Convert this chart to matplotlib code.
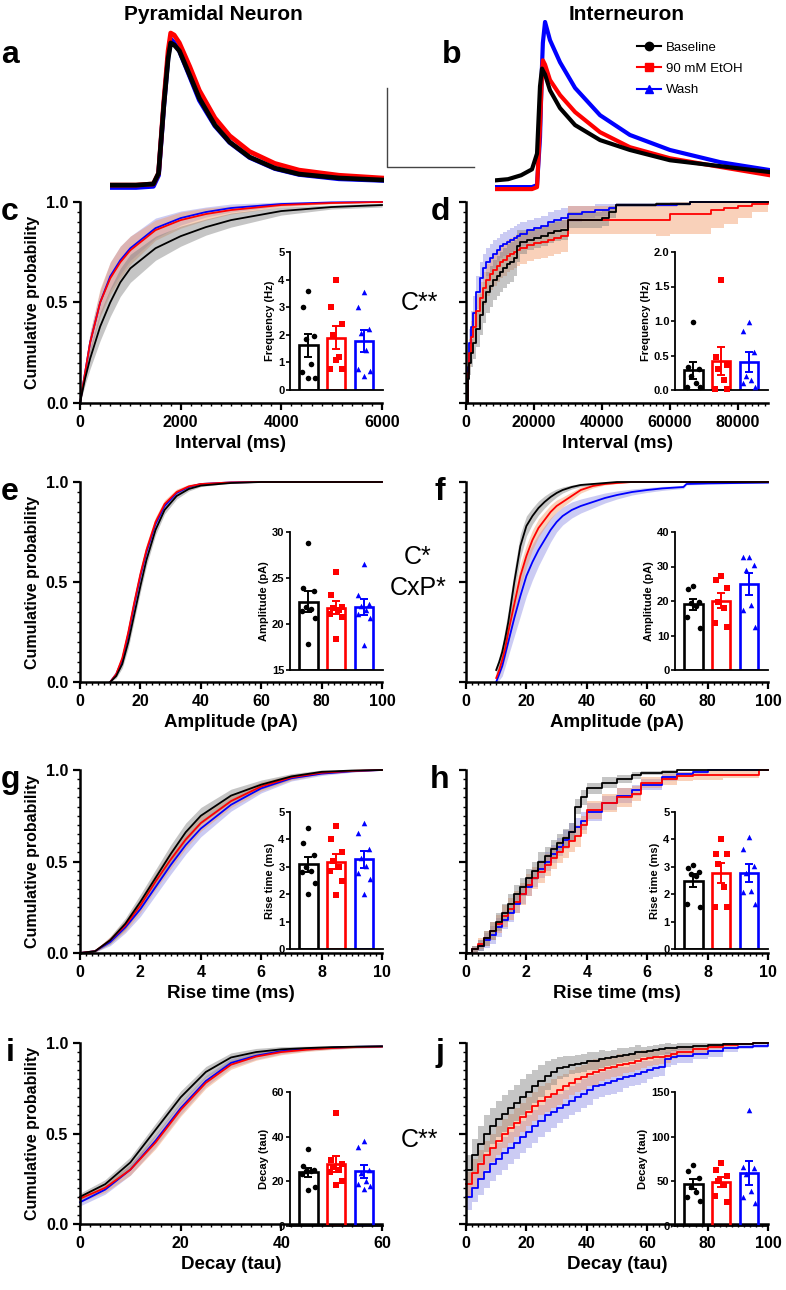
import numpy as np
import matplotlib
matplotlib.use("Agg")
import matplotlib.pyplot as plt
from matplotlib.lines import Line2D
from matplotlib.ticker import MultipleLocator, FormatStrFormatter

plt.rcParams.update({
    "font.family": ["Liberation Sans", "DejaVu Sans"],
    "font.weight": "bold",
    "axes.labelweight": "bold",
    "axes.linewidth": 1.6,
})

W, H = 786, 1290
LINE = ["#000000", "#ff0000", "#0000ff"]
BAND = ["#7f7f7f", "#f29a66", "#8c8ce6"]
MARK = ["o", "s", "^"]
LABELS = ["Baseline", "90 mM EtOH", "Wash"]

# ─── example traces (ms, pA) ────────────────────────────────────────────────
A_T = [0, 3, 5, 5.6, 6.2, 6.7, 7.0, 7.4, 8.0, 9.2, 10.3, 12.1, 13.8, 16.1, 19.0, 21.8, 26.4, 31.4]
A_BASE = [0, 0, 0.3, 3, 20, 32, 36, 35.5, 34, 27.8, 22, 15.2, 10.9, 7.1, 4.3, 2.8, 1.8, 1.3]
A_ETOH = [0, 0, 0.3, 3, 21, 34, 38.5, 38, 36, 30, 24, 17, 12.5, 8.5, 5.5, 3.8, 2.5, 1.8]
A_WASH = [-0.6, -0.6, -0.3, 2.5, 20, 32.5, 37, 36, 34, 27.5, 21.5, 15, 10.8, 7, 4.2, 2.7, 1.6, 1.2]

B_T = [0, 1.5, 3.0, 4.25, 4.83, 5.17, 5.4, 5.5, 5.75, 6.32, 7.47, 9.2, 12.07, 15.5, 20.1, 25.9, 31.6]
B_BASE = [1.2, 1.5, 2.5, 4, 8, 25, 29.5, 29, 28, 24, 19.5, 15.2, 11.4, 8.9, 6.3, 4.8, 3.3]
B_ETOH = [-1, -1, -1, -1, -0.5, 15, 28, 31.6, 30.5, 26.6, 22.8, 18.5, 13.4, 9.6, 6.8, 4.6, 2.5]
B_WASH = [-0.5, -0.5, -0.5, -0.5, 0, 12, 30, 36, 41.3, 36.7, 31.1, 24.6, 17.7, 12.7, 8.9, 5.8, 3.8]

# ─── c: interval, pyramidal ─────────────────────────────────────────────────
C_X = [0, 100, 200, 400, 600, 800, 1000, 1500, 2000, 2500, 3000, 4000, 5000, 6000]
C_BASE = [0, 0.12, 0.22, 0.38, 0.5, 0.6, 0.67, 0.77, 0.83, 0.875, 0.91, 0.955, 0.975, 0.985]
C_ETOH = [0, 0.15, 0.3, 0.5, 0.62, 0.7, 0.76, 0.86, 0.91, 0.94, 0.96, 0.985, 0.995, 1.0]
C_WASH = [0, 0.15, 0.3, 0.5, 0.63, 0.71, 0.77, 0.87, 0.92, 0.95, 0.97, 0.99, 0.998, 1.0]
C_BASE_SEM = [0, 0.03, 0.05, 0.07, 0.07, 0.07, 0.07, 0.06, 0.05, 0.04, 0.035, 0.02, 0.01, 0.01]
C_ETOH_SEM = [0, 0.03, 0.05, 0.07, 0.08, 0.08, 0.07, 0.05, 0.04, 0.03, 0.02, 0.01, 0.005, 0]
C_WASH_SEM = [0, 0.03, 0.05, 0.06, 0.07, 0.07, 0.06, 0.05, 0.035, 0.025, 0.02, 0.01, 0.005, 0]

# ─── d: interval, interneuron ───────────────────────────────────────────────
D_X = [0, 500, 1000, 1500, 2000, 3000, 4000, 5000, 6000, 7000, 8000, 9000, 10000, 11000,
       12000, 13000, 14000, 15000, 16000, 18000, 20000, 22000, 24000, 26000, 28000, 30000,
       34000, 38000, 40000, 42000, 44000, 48000, 56000, 60000, 62000, 66000, 68000, 72000,
       76000, 80000, 84000, 88800]
D_BASE = [0, 0.12, 0.2, 0.25, 0.3, 0.37, 0.44, 0.5, 0.55, 0.58, 0.61, 0.63, 0.65, 0.67,
          0.69, 0.70, 0.72, 0.78, 0.80, 0.81, 0.82, 0.83, 0.845, 0.855, 0.86, 0.91,
          0.91, 0.91, 0.92, 0.95, 0.985, 0.985, 0.99, 0.99, 0.99, 1.0, 1.0, 1.0,
          1.0, 1.0, 1.0, 1.0]
D_ETOH = [0, 0.15, 0.25, 0.33, 0.38, 0.46, 0.52, 0.57, 0.61, 0.64, 0.66, 0.68, 0.70, 0.71,
          0.73, 0.74, 0.75, 0.76, 0.77, 0.785, 0.795, 0.80, 0.81, 0.82, 0.83, 0.91,
          0.91, 0.91, 0.91, 0.91, 0.91, 0.91, 0.91, 0.94, 0.94, 0.94, 0.94, 0.96,
          0.97, 0.98, 0.99, 1.0]
D_WASH = [0, 0.18, 0.30, 0.38, 0.45, 0.55, 0.62, 0.67, 0.70, 0.72, 0.74, 0.76, 0.78, 0.79,
          0.80, 0.81, 0.82, 0.83, 0.84, 0.86, 0.87, 0.88, 0.90, 0.91, 0.92, 0.94,
          0.95, 0.96, 0.96, 0.97, 0.985, 0.985, 0.985, 0.985, 0.99, 1.0, 1.0, 1.0,
          1.0, 1.0, 1.0, 1.0]
D_BASE_SEM = [0, 0.04, 0.06, 0.07, 0.08, 0.09, 0.1, 0.1, 0.1, 0.1, 0.1, 0.1, 0.1, 0.1,
              0.1, 0.1, 0.09, 0.08, 0.06, 0.05, 0.05, 0.05, 0.05, 0.05, 0.05, 0.04,
              0.04, 0.04, 0.04, 0.03, 0.01, 0.01, 0.01, 0.01, 0.01, 0, 0, 0,
              0, 0, 0, 0]
D_ETOH_SEM = [0, 0.05, 0.07, 0.08, 0.08, 0.08, 0.08, 0.08, 0.08, 0.08, 0.08, 0.08, 0.08, 0.08,
              0.08, 0.08, 0.08, 0.08, 0.08, 0.08, 0.08, 0.08, 0.08, 0.08, 0.08, 0.07,
              0.07, 0.07, 0.07, 0.07, 0.07, 0.07, 0.08, 0.1, 0.1, 0.1, 0.1, 0.09,
              0.08, 0.06, 0.04, 0]
D_WASH_SEM = [0, 0.05, 0.07, 0.08, 0.08, 0.08, 0.08, 0.07, 0.07, 0.07, 0.07, 0.06, 0.06, 0.06,
              0.06, 0.06, 0.06, 0.06, 0.06, 0.05, 0.05, 0.05, 0.05, 0.05, 0.05, 0.04,
              0.03, 0.03, 0.03, 0.02, 0.01, 0.01, 0.01, 0.01, 0.005, 0, 0, 0,
              0, 0, 0, 0]

# ─── e: amplitude, pyramidal ────────────────────────────────────────────────
E_X = [10, 12, 14, 16, 18, 20, 22, 25, 28, 32, 36, 40, 50, 60, 100]
E_BASE = [0, 0.03, 0.09, 0.2, 0.34, 0.48, 0.61, 0.76, 0.86, 0.93, 0.965, 0.982, 0.995, 1.0, 1.0]
E_ETOH = [0, 0.04, 0.12, 0.25, 0.4, 0.54, 0.66, 0.8, 0.89, 0.95, 0.978, 0.99, 0.998, 1.0, 1.0]
E_WASH = [0, 0.04, 0.11, 0.24, 0.39, 0.53, 0.65, 0.79, 0.88, 0.945, 0.975, 0.99, 0.998, 1.0, 1.0]
E_SEM = [0, 0.01, 0.02, 0.03, 0.03, 0.03, 0.03, 0.025, 0.02, 0.015, 0.01, 0.005, 0, 0, 0]

# ─── f: amplitude, interneuron ──────────────────────────────────────────────
F_X = [10, 11, 12, 13, 14, 15, 16, 18, 20, 22, 24, 26, 28, 30, 32, 35, 38, 42, 46, 50,
       55, 60, 65, 70, 72, 73, 80, 90, 100]
F_BASE = [0.06, 0.1, 0.15, 0.22, 0.3, 0.4, 0.5, 0.68, 0.78, 0.83, 0.87, 0.9, 0.925, 0.945,
          0.96, 0.975, 0.985, 0.99, 0.995, 1.0, 1.0, 1.0, 1.0, 1.0, 1.0, 1.0, 1.0, 1.0, 1.0]
F_ETOH = [0.02, 0.06, 0.11, 0.17, 0.25, 0.32, 0.39, 0.53, 0.63, 0.71, 0.77, 0.81, 0.85, 0.88,
          0.9, 0.93, 0.96, 0.98, 0.99, 0.995, 1.0, 1.0, 1.0, 1.0, 1.0, 1.0, 1.0, 1.0, 1.0]
F_WASH = [0.0, 0.04, 0.08, 0.14, 0.2, 0.26, 0.32, 0.43, 0.53, 0.6, 0.66, 0.71, 0.76, 0.8,
          0.83, 0.86, 0.88, 0.9, 0.92, 0.935, 0.95, 0.96, 0.968, 0.973, 0.975, 0.99, 0.993,
          0.995, 0.997]
F_BASE_SEM = [0.02, 0.03, 0.04, 0.05, 0.06, 0.06, 0.06, 0.06, 0.05, 0.04, 0.035, 0.03, 0.025,
              0.02, 0.015, 0.01, 0.008, 0.005, 0.003, 0, 0, 0, 0, 0, 0, 0, 0, 0, 0]
F_ETOH_SEM = [0.01, 0.03, 0.04, 0.05, 0.06, 0.06, 0.06, 0.06, 0.055, 0.05, 0.045, 0.04, 0.035,
              0.03, 0.025, 0.02, 0.015, 0.01, 0.005, 0.003, 0, 0, 0, 0, 0, 0, 0, 0, 0]
F_WASH_SEM = [0.0, 0.03, 0.05, 0.06, 0.07, 0.08, 0.09, 0.1, 0.1, 0.09, 0.08, 0.07, 0.06, 0.05,
              0.045, 0.04, 0.035, 0.03, 0.025, 0.02, 0.015, 0.012, 0.01, 0.008, 0.008, 0.005,
              0.004, 0.003, 0.002]

# ─── g: rise time, pyramidal ────────────────────────────────────────────────
G_X = [0, 0.5, 1, 1.5, 2, 2.5, 3, 3.5, 4, 5, 6, 7, 8, 9, 10]
G_BASE = [0, 0.01, 0.07, 0.16, 0.28, 0.41, 0.54, 0.66, 0.75, 0.86, 0.92, 0.965, 0.99, 0.997, 1.0]
G_ETOH = [0, 0.01, 0.07, 0.15, 0.26, 0.39, 0.51, 0.62, 0.71, 0.83, 0.91, 0.96, 0.985, 0.995, 1.0]
G_WASH = [0, 0.01, 0.06, 0.14, 0.24, 0.36, 0.48, 0.59, 0.68, 0.81, 0.9, 0.955, 0.98, 0.993, 1.0]
G_SEM = [0, 0.005, 0.02, 0.03, 0.04, 0.045, 0.05, 0.05, 0.045, 0.035, 0.025, 0.015, 0.01, 0.005, 0]

# ─── h: rise time, interneuron ──────────────────────────────────────────────
H_X = [0, 0.2, 0.4, 0.6, 0.8, 1.0, 1.2, 1.4, 1.6, 1.8, 2.0, 2.2, 2.4, 2.6, 2.8, 3.0, 3.2,
       3.4, 3.6, 3.8, 4.0, 4.5, 5.0, 5.5, 5.8, 6.5, 7.0, 7.5, 8.0, 8.5, 9.0, 9.5, 9.7, 10.0]
H_BASE = [0.0, 0.02, 0.04, 0.08, 0.12, 0.17, 0.22, 0.27, 0.32, 0.36, 0.41, 0.45, 0.5, 0.53,
          0.57, 0.6, 0.63, 0.66, 0.8, 0.85, 0.9, 0.93, 0.95, 0.97, 0.985, 0.99, 1.0, 1.0,
          1.0, 1.0, 1.0, 1.0, 1.0, 1.0]
H_ETOH = [0.0, 0.02, 0.05, 0.08, 0.12, 0.16, 0.2, 0.24, 0.28, 0.32, 0.37, 0.41, 0.44, 0.48,
          0.52, 0.55, 0.58, 0.61, 0.64, 0.7, 0.78, 0.82, 0.85, 0.87, 0.93, 0.95, 0.965, 0.97,
          0.97, 0.975, 0.975, 0.975, 1.0, 1.0]
H_WASH = [0.0, 0.02, 0.04, 0.07, 0.1, 0.14, 0.18, 0.22, 0.27, 0.32, 0.36, 0.41, 0.46, 0.5,
          0.54, 0.58, 0.62, 0.66, 0.69, 0.72, 0.77, 0.82, 0.86, 0.89, 0.92, 0.96, 0.98, 0.99,
          1.0, 1.0, 1.0, 1.0, 1.0, 1.0]
H_BASE_SEM = [0, 0.02, 0.03, 0.04, 0.05, 0.05, 0.05, 0.05, 0.05, 0.05, 0.05, 0.05, 0.05, 0.05,
              0.05, 0.05, 0.05, 0.05, 0.04, 0.04, 0.03, 0.03, 0.02, 0.02, 0.01, 0.01, 0, 0,
              0, 0, 0, 0, 0, 0]
H_ETOH_SEM = [0, 0.02, 0.03, 0.04, 0.05, 0.05, 0.06, 0.06, 0.06, 0.06, 0.06, 0.06, 0.06, 0.06,
              0.06, 0.06, 0.06, 0.06, 0.06, 0.05, 0.05, 0.05, 0.05, 0.04, 0.03, 0.03, 0.025,
              0.025, 0.025, 0.02, 0.02, 0.02, 0, 0]
H_WASH_SEM = [0, 0.02, 0.03, 0.04, 0.05, 0.05, 0.05, 0.05, 0.05, 0.05, 0.05, 0.05, 0.05, 0.05,
              0.05, 0.05, 0.05, 0.05, 0.05, 0.05, 0.05, 0.04, 0.04, 0.03, 0.03, 0.02, 0.01,
              0.01, 0, 0, 0, 0, 0, 0]

# ─── i: decay, pyramidal ────────────────────────────────────────────────────
I_X = [0, 5, 10, 15, 20, 25, 30, 35, 40, 45, 50, 55, 60]
I_BASE = [0.15, 0.22, 0.34, 0.52, 0.7, 0.84, 0.92, 0.95, 0.965, 0.972, 0.977, 0.98, 0.982]
I_ETOH = [0.14, 0.2, 0.3, 0.45, 0.63, 0.78, 0.88, 0.925, 0.95, 0.963, 0.972, 0.978, 0.98]
I_WASH = [0.12, 0.19, 0.3, 0.46, 0.64, 0.79, 0.89, 0.93, 0.955, 0.967, 0.974, 0.979, 0.981]
I_SEM = [0.02, 0.025, 0.03, 0.035, 0.035, 0.03, 0.025, 0.02, 0.015, 0.01, 0.008, 0.006, 0.005]

# ─── j: decay, interneuron ──────────────────────────────────────────────────
J_X = [0, 2, 4, 6, 8, 10, 12, 14, 16, 18, 20, 22, 24, 26, 28, 30, 32, 34, 36, 38, 40, 42,
       44, 46, 48, 50, 52, 54, 56, 58, 60, 62, 64, 66, 68, 70, 75, 80, 85, 90, 95, 100]
J_BASE = [0.3, 0.38, 0.44, 0.5, 0.54, 0.58, 0.61, 0.64, 0.67, 0.7, 0.73, 0.76, 0.79, 0.82,
          0.84, 0.86, 0.87, 0.88, 0.885, 0.89, 0.9, 0.9, 0.91, 0.915, 0.92, 0.93, 0.935, 0.94,
          0.95, 0.95, 0.955, 0.96, 0.965, 0.97, 0.975, 0.98, 0.985, 0.99, 0.995, 0.995, 1.0, 1.0]
J_ETOH = [0.22, 0.28, 0.33, 0.38, 0.42, 0.46, 0.5, 0.53, 0.56, 0.59, 0.62, 0.65, 0.68, 0.7,
          0.72, 0.74, 0.76, 0.78, 0.8, 0.81, 0.83, 0.84, 0.85, 0.86, 0.87, 0.88, 0.885, 0.89,
          0.9, 0.91, 0.915, 0.92, 0.925, 0.93, 0.94, 0.95, 0.965, 0.98, 0.99, 0.995, 1.0, 1.0]
J_WASH = [0.15, 0.2, 0.25, 0.29, 0.33, 0.36, 0.39, 0.42, 0.45, 0.48, 0.51, 0.54, 0.57, 0.6,
          0.62, 0.64, 0.66, 0.68, 0.7, 0.72, 0.74, 0.76, 0.77, 0.78, 0.79, 0.8, 0.81, 0.82,
          0.83, 0.84, 0.85, 0.86, 0.87, 0.91, 0.92, 0.93, 0.94, 0.955, 0.97, 0.98, 0.985, 0.99]
J_BASE_SEM = [0.08, 0.09, 0.1, 0.1, 0.1, 0.1, 0.1, 0.1, 0.1, 0.1, 0.1, 0.09, 0.09, 0.08, 0.07,
              0.06, 0.06, 0.05, 0.05, 0.05, 0.05, 0.05, 0.05, 0.04, 0.04, 0.04, 0.04, 0.04,
              0.04, 0.03, 0.03, 0.03, 0.03, 0.03, 0.02, 0.02, 0.02, 0.01, 0.01, 0.005, 0, 0]
J_ETOH_SEM = [0.07, 0.08, 0.08, 0.08, 0.08, 0.08, 0.08, 0.08, 0.08, 0.08, 0.08, 0.08, 0.08, 0.08,
              0.08, 0.08, 0.07, 0.07, 0.07, 0.07, 0.07, 0.07, 0.06, 0.06, 0.06, 0.06, 0.05,
              0.05, 0.05, 0.05, 0.04, 0.04, 0.04, 0.04, 0.03, 0.03, 0.02, 0.015, 0.01, 0.005, 0, 0]
J_WASH_SEM = [0.07, 0.08, 0.09, 0.09, 0.09, 0.09, 0.09, 0.09, 0.09, 0.09, 0.09, 0.09, 0.09, 0.09,
              0.09, 0.08, 0.08, 0.08, 0.08, 0.08, 0.08, 0.07, 0.07, 0.07, 0.07, 0.07, 0.06,
              0.06, 0.06, 0.06, 0.05, 0.05, 0.05, 0.04, 0.04, 0.04, 0.03, 0.03, 0.02, 0.015,
              0.01, 0.01]

# ─── inset per-cell values ──────────────────────────────────────────────────
FREQ_PYR = [[3.6, 3.0, 1.95, 1.85, 0.95, 0.65, 0.45, 0.45],
            [4.0, 3.0, 2.4, 2.0, 1.2, 0.75, 0.75, 1.1],
            [3.55, 3.0, 2.2, 2.05, 1.45, 0.75, 0.7, 0.5]]
FREQ_INT = [[0.98, 0.33, 0.3, 0.2, 0.1, 0.05, 0.05],
            [1.59, 0.48, 0.36, 0.3, 0.15, 0.02, 0.02],
            [0.98, 0.86, 0.55, 0.2, 0.15, 0.1, 0.05]]
AMP_PYR = [[28.8, 23.9, 23.6, 21.8, 21.6, 21.4, 20.6, 17.8],
           [25.6, 23.2, 21.9, 21.7, 21.5, 21.1, 20.8, 18.4],
           [26.5, 23.1, 22.2, 22.0, 21.5, 21.1, 20.6, 17.7]]
AMP_INT = [[24.4, 23.5, 19.8, 19.3, 18.6, 15.5, 12.3],
           [27.2, 26.1, 23.7, 19.8, 17.9, 13.6, 12.6],
           [32.8, 32.8, 30.4, 29.1, 18.8, 17.3, 12.5]]
RISE_PYR = [[4.4, 3.88, 3.42, 3.0, 2.85, 2.8, 2.42, 2.02],
            [4.48, 4.0, 3.55, 3.2, 3.0, 2.85, 2.5, 1.96],
            [4.6, 4.24, 3.64, 3.33, 3.03, 2.79, 2.55, 2.02]]
RISE_INT = [[3.05, 2.95, 2.8, 2.75, 2.65, 1.65, 1.55],
            [4.0, 3.45, 3.45, 3.1, 2.25, 1.55, 1.55],
            [4.1, 3.64, 3.03, 2.76, 2.12, 2.08, 1.64]]
DECAY_PYR = [[34.3, 27.0, 25.2, 24.8, 24.5, 23.1, 17.3, 16.3],
             [50.4, 29.6, 27.8, 26.4, 25.2, 24.1, 20.0, 18.4],
             [38.1, 35.3, 25.2, 23.7, 20.1, 18.7, 18.0, 16.5]]
DECAY_INT = [[68, 62, 54, 44, 38, 33, 28],
             [70.8, 62.5, 56, 50.5, 46.2, 33.6, 26.4],
             [130, 66, 65.3, 58, 39, 32.5, 25.3]]

JITTER = [0.0, -0.2, 0.2, -0.1, 0.1, -0.22, 0.22, 0.0]


def px_axes(fig, x0, y0, x1, y1):
    return fig.add_axes([x0 / W, 1 - y1 / H, (x1 - x0) / W, (y1 - y0) / H])


def cdf_panel(ax, x, curves, sems, xmax, major, minor, xlabel, step=False, left=True):
    x = np.array(x, dtype=float)
    for i in [2, 1, 0]:
        y = np.array(curves[i])
        s = np.array(sems[i])
        ax.fill_between(x, np.clip(y - s, 0, 1), np.clip(y + s, 0, 1),
                        color=BAND[i], alpha=0.45, lw=0, step="post" if step else None)
        ax.plot(x, y, color=LINE[i], lw=1.3, clip_on=False,
                drawstyle="steps-post" if step else "default")
    ax.set_xlim(0, xmax)
    ax.set_ylim(0, 1.0)
    ax.xaxis.set_major_locator(MultipleLocator(major))
    ax.xaxis.set_minor_locator(MultipleLocator(minor))
    ax.yaxis.set_major_locator(MultipleLocator(0.5))
    ax.yaxis.set_minor_locator(MultipleLocator(0.05))
    ax.yaxis.set_major_formatter(FormatStrFormatter("%.1f"))
    ax.spines[["top", "right"]].set_visible(False)
    ax.spines[["left", "bottom"]].set_linewidth(1.8)
    ax.tick_params(which="major", length=5, width=1.6, labelsize=11.5)
    ax.tick_params(which="minor", length=2.5, width=1.0)
    ax.set_xlabel(xlabel, fontsize=13.5, labelpad=4)
    if left:
        ax.set_ylabel("Cumulative probability", fontsize=11.5, labelpad=4)
    else:
        ax.tick_params(axis="y", labelleft=False)
    ax.set_facecolor("none")


def inset(ax, groups, ylim, step, ylabel, fmt="%d"):
    for i, vals in enumerate(groups):
        vals = np.array(vals)
        m = vals.mean()
        sem = vals.std(ddof=1) / np.sqrt(len(vals))
        ax.bar(i, m - ylim[0], bottom=ylim[0], width=0.66, facecolor="none",
               edgecolor=LINE[i], lw=1.9)
        ax.errorbar(i, m, yerr=sem, color=LINE[i], capsize=3, lw=1.4, capthick=1.4)
        ax.scatter(i + np.array(JITTER[:len(vals)]), vals, marker=MARK[i], color=LINE[i],
                   s=16, zorder=3, lw=0, clip_on=False)
    ax.set_xlim(-0.67, 2.7)
    ax.set_ylim(*ylim)
    ax.yaxis.set_major_locator(MultipleLocator(step))
    ax.yaxis.set_major_formatter(FormatStrFormatter(fmt))
    ax.set_xticks([])
    ax.spines[["top", "right"]].set_visible(False)
    ax.spines[["left", "bottom"]].set_linewidth(1.3)
    ax.tick_params(axis="y", length=3, width=1.2, labelsize=8, pad=1)
    ax.set_ylabel(ylabel, fontsize=8, labelpad=2)
    ax.set_facecolor("none")


fig = plt.figure(figsize=(W / 100, H / 100), dpi=100)

# ─── headers + traces ───────────────────────────────────────────────────────
fig.text(213 / W, 1 - 14 / H, "Pyramidal Neuron", ha="center", va="center", fontsize=15)
fig.text(627 / W, 1 - 14 / H, "Interneuron", ha="center", va="center", fontsize=15)

ax_a = px_axes(fig, 110, 20, 384, 195)
ax_b = px_axes(fig, 495, 20, 770, 195)
for ax, t, series in [(ax_a, A_T, [A_BASE, A_ETOH, A_WASH]), (ax_b, B_T, [B_BASE, B_ETOH, B_WASH])]:
    for i in [2, 1, 0]:
        ax.plot(t, series[i], color=LINE[i], lw=3.4 if ax is ax_a else 3.0,
                solid_joinstyle="round")
    ax.set_xlim(0, 31.6)
    ax.set_ylim(-2.5, 41.8)
    ax.axis("off")
# scale bar: 10 ms / 20 pA
ax_a.plot([32.0, 32.0, 42.0], [24.6, 4.6, 4.6], color="#444444", lw=1.0, clip_on=False)

handles = [Line2D([], [], color=LINE[i], marker=MARK[i], markersize=6, lw=1.5) for i in range(3)]
fig.legend(handles, LABELS, loc="upper left", bbox_to_anchor=(632 / W, 1 - 36 / H),
           frameon=False, prop={"size": 9.5, "weight": "normal"}, handlelength=1.8,
           handletextpad=0.4, labelspacing=0.7, borderaxespad=0)

# ─── CDF rows (top, bottom in px) ───────────────────────────────────────────
rows = [(202, 403), (482, 682), (770, 953), (1043, 1224)]
inset_rows = [(252, 390), (532, 670), (812, 949), (1092, 1226)]
LX = (80, 382)
RX = (466, 768)

ax = px_axes(fig, LX[0], rows[0][0], LX[1], rows[0][1])
cdf_panel(ax, C_X, [C_BASE, C_ETOH, C_WASH], [C_BASE_SEM, C_ETOH_SEM, C_WASH_SEM],
          6000, 2000, 200, "Interval (ms)")
ax = px_axes(fig, RX[0], rows[0][0], RX[1], rows[0][1])
cdf_panel(ax, D_X, [D_BASE, D_ETOH, D_WASH], [D_BASE_SEM, D_ETOH_SEM, D_WASH_SEM],
          88800, 20000, 2000, "Interval (ms)", step=True, left=False)

ax = px_axes(fig, LX[0], rows[1][0], LX[1], rows[1][1])
cdf_panel(ax, E_X, [E_BASE, E_ETOH, E_WASH], [E_SEM, E_SEM, E_SEM],
          100, 20, 2, "Amplitude (pA)")
ax = px_axes(fig, RX[0], rows[1][0], RX[1], rows[1][1])
cdf_panel(ax, F_X, [F_BASE, F_ETOH, F_WASH], [F_BASE_SEM, F_ETOH_SEM, F_WASH_SEM],
          100, 20, 2, "Amplitude (pA)", left=False)

ax = px_axes(fig, LX[0], rows[2][0], LX[1], rows[2][1])
cdf_panel(ax, G_X, [G_BASE, G_ETOH, G_WASH], [G_SEM, G_SEM, G_SEM],
          10, 2, 0.2, "Rise time (ms)")
ax = px_axes(fig, RX[0], rows[2][0], RX[1], rows[2][1])
cdf_panel(ax, H_X, [H_BASE, H_ETOH, H_WASH], [H_BASE_SEM, H_ETOH_SEM, H_WASH_SEM],
          10, 2, 0.2, "Rise time (ms)", step=True, left=False)

ax = px_axes(fig, LX[0], rows[3][0], LX[1], rows[3][1])
cdf_panel(ax, I_X, [I_BASE, I_ETOH, I_WASH], [I_SEM, I_SEM, I_SEM],
          60, 20, 2, "Decay (tau)")
ax = px_axes(fig, RX[0], rows[3][0], RX[1], rows[3][1])
cdf_panel(ax, J_X, [J_BASE, J_ETOH, J_WASH], [J_BASE_SEM, J_ETOH_SEM, J_WASH_SEM],
          100, 20, 2, "Decay (tau)", step=True, left=False)

# ─── insets ─────────────────────────────────────────────────────────────────
inset_specs = [
    (0, 290, FREQ_PYR, (0, 5), 1, "Frequency (Hz)", "%d"),
    (0, 675, FREQ_INT, (0, 2.0), 0.5, "Frequency (Hz)", "%.1f"),
    (1, 290, AMP_PYR, (15, 30), 5, "Amplitude (pA)", "%d"),
    (1, 675, AMP_INT, (0, 40), 10, "Amplitude (pA)", "%d"),
    (2, 290, RISE_PYR, (0, 5), 1, "Rise time (ms)", "%d"),
    (2, 675, RISE_INT, (0, 5), 1, "Rise time (ms)", "%d"),
    (3, 290, DECAY_PYR, (0, 60), 20, "Decay (tau)", "%d"),
    (3, 675, DECAY_INT, (0, 150), 50, "Decay (tau)", "%d"),
]
for r, x0, groups, ylim, step, lab, fmt in inset_specs:
    iax = px_axes(fig, x0, inset_rows[r][0], x0 + 93, inset_rows[r][1])
    inset(iax, groups, ylim, step, lab, fmt)

# ─── panel letters and stats ────────────────────────────────────────────────
letters = [("a", 10, 55), ("b", 452, 55)]
for k, lt in enumerate("cegi"):
    letters.append((lt, 10, rows[k][0] + 10))
for k, lt in enumerate("dfhj"):
    letters.append((lt, 440, rows[k][0] + 10))
for lt, x, y in letters:
    fig.text(x / W, 1 - y / H, lt, ha="center", va="center", fontsize=23)

stat_kw = dict(ha="center", va="center", fontsize=18, fontweight="normal")
fig.text(419 / W, 1 - 303 / H, "C**", **stat_kw)
fig.text(418 / W, 1 - 557 / H, "C*", **stat_kw)
fig.text(418 / W, 1 - 588 / H, "CxP*", **stat_kw)
fig.text(419 / W, 1 - 1140 / H, "C**", **stat_kw)

fig.savefig("out.png", dpi=100)
